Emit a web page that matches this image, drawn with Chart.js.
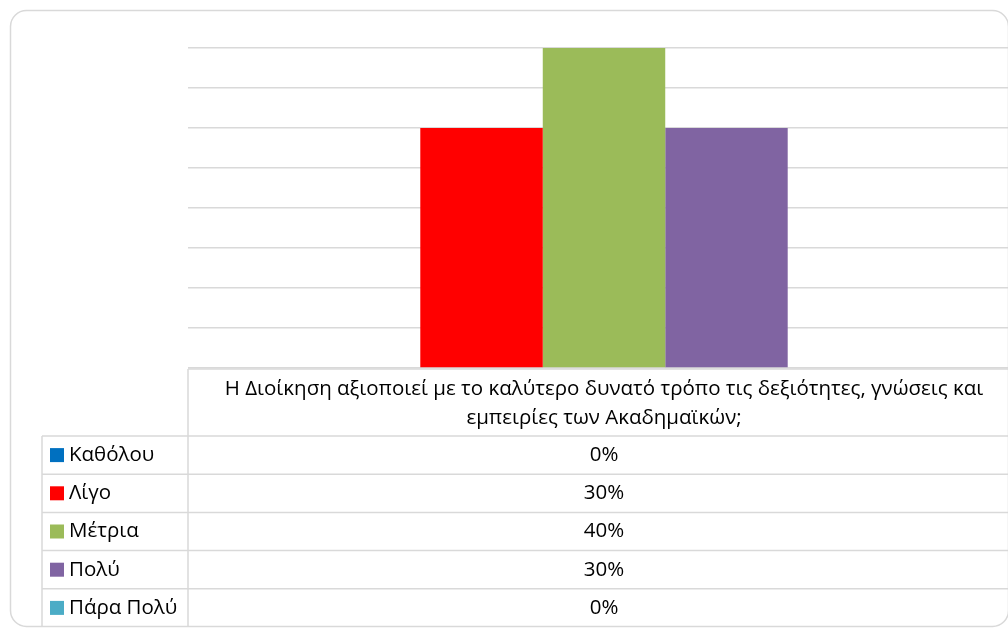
<!DOCTYPE html>
<html>
<head>
<meta charset="utf-8">
<script src="https://cdn.jsdelivr.net/npm/chart.js@4.4.1/dist/chart.umd.min.js"></script>
<style>
  html, body { margin: 0; padding: 0; background: #fff; overflow: hidden; }
  #wrap { width: 1008px; height: 630px; overflow: hidden; position: relative; }
  #wrap canvas { position: absolute; left: 0; top: 0; }
</style>
</head>
<body>
<div id="wrap"><canvas id="chart" width="1020" height="630"></canvas></div>
<script>
// question shown in the table header (two lines)
const categories = [[
  'Η Διοίκηση αξιοποιεί με το καλύτερο δυνατό τρόπο τις δεξιότητες, γνώσεις και',
  'εμπειρίες των Ακαδημαϊκών;'
]];
const seriesNames = ['Καθόλου', 'Λίγο', 'Μέτρια', 'Πολύ', 'Πάρα Πολύ'];
const seriesValues = [0, 30, 40, 30, 0]; // percent
const seriesColors = ['#0070C0', '#FF0000', '#9BBB59', '#8064A2', '#4BACC6'];
const yMax = 40;
const yStep = 5;

const lineColor = '#d9d9d9';
const font = '"Open Sans", "DejaVu Sans", sans-serif';

// data table under the plot, with legend keys in the first column
const dataTable = {
  id: 'dataTable',
  afterDraw(chart) {
    const ctx = chart.ctx;
    const area = chart.chartArea;
    const xs = chart.scales.x;
    const cx = xs.getPixelForValue(0);
    const left = area.left;
    const right = chart.width;
    const headTop = area.bottom + 1;
    const headBottom = 436;
    const rowH = 38.2;
    const keyLeft = 42;
    const bottom = headBottom + rowH * seriesNames.length;

    ctx.save();
    ctx.strokeStyle = lineColor;
    ctx.lineWidth = 1.5;
    ctx.beginPath();
    ctx.moveTo(left, headTop); ctx.lineTo(right, headTop);
    ctx.moveTo(left, headTop); ctx.lineTo(left, bottom);
    ctx.moveTo(keyLeft, headBottom); ctx.lineTo(keyLeft, bottom);
    for (let i = 0; i < seriesNames.length; i++) {
      const y = headBottom + rowH * i;
      ctx.moveTo(keyLeft, y); ctx.lineTo(right, y);
    }
    ctx.stroke();

    ctx.fillStyle = '#000';
    ctx.font = '20.5px ' + font;
    ctx.textAlign = 'center';
    ctx.textBaseline = 'middle';
    const lines = categories[0];
    lines.forEach((t, i) => ctx.fillText(t, cx, headTop + 20 + i * 29));

    chart.data.datasets.forEach((ds, i) => {
      const yMid = headBottom + rowH * i + rowH / 2;
      ctx.fillStyle = ds.backgroundColor;
      ctx.fillRect(keyLeft + 8, yMid - 7, 14, 14);
      ctx.fillStyle = '#000';
      ctx.textAlign = 'left';
      ctx.fillText(ds.label, keyLeft + 27, yMid);
      ctx.textAlign = 'center';
      ctx.fillText(ds.data[0] + '%', cx, yMid);
    });
    ctx.restore();
  }
};

// rounded chart frame
const frame = {
  id: 'frame',
  beforeDraw(chart) {
    const ctx = chart.ctx;
    const x = 10.5, y = 10.5, w = 998, h = 616, r = 16;
    ctx.save();
    ctx.strokeStyle = lineColor;
    ctx.lineWidth = 1.5;
    ctx.beginPath();
    ctx.roundRect(x, y, w, h, r);
    ctx.stroke();
    ctx.restore();
  }
};

new Chart(document.getElementById('chart'), {
  type: 'bar',
  data: {
    labels: categories,
    datasets: seriesNames.map((name, i) => ({
      label: name,
      data: [seriesValues[i]],
      backgroundColor: seriesColors[i],
      borderWidth: 0
    }))
  },
  options: {
    responsive: false,
    animation: false,
    datasets: { bar: { categoryPercentage: 0.736, barPercentage: 1 } },
    layout: { padding: { left: 188, right: 0, top: 48, bottom: 262 } },
    plugins: { legend: { display: false }, tooltip: { enabled: false } },
    scales: {
      x: { display: false },
      y: {
        min: 0,
        max: yMax,
        ticks: { display: false, stepSize: yStep },
        grid: { color: lineColor, lineWidth: 1.5, drawTicks: false },
        border: { display: false },
        afterFit(scale) { scale.width = 0; }
      }
    }
  },
  plugins: [frame, dataTable]
});
</script>
</body>
</html>
